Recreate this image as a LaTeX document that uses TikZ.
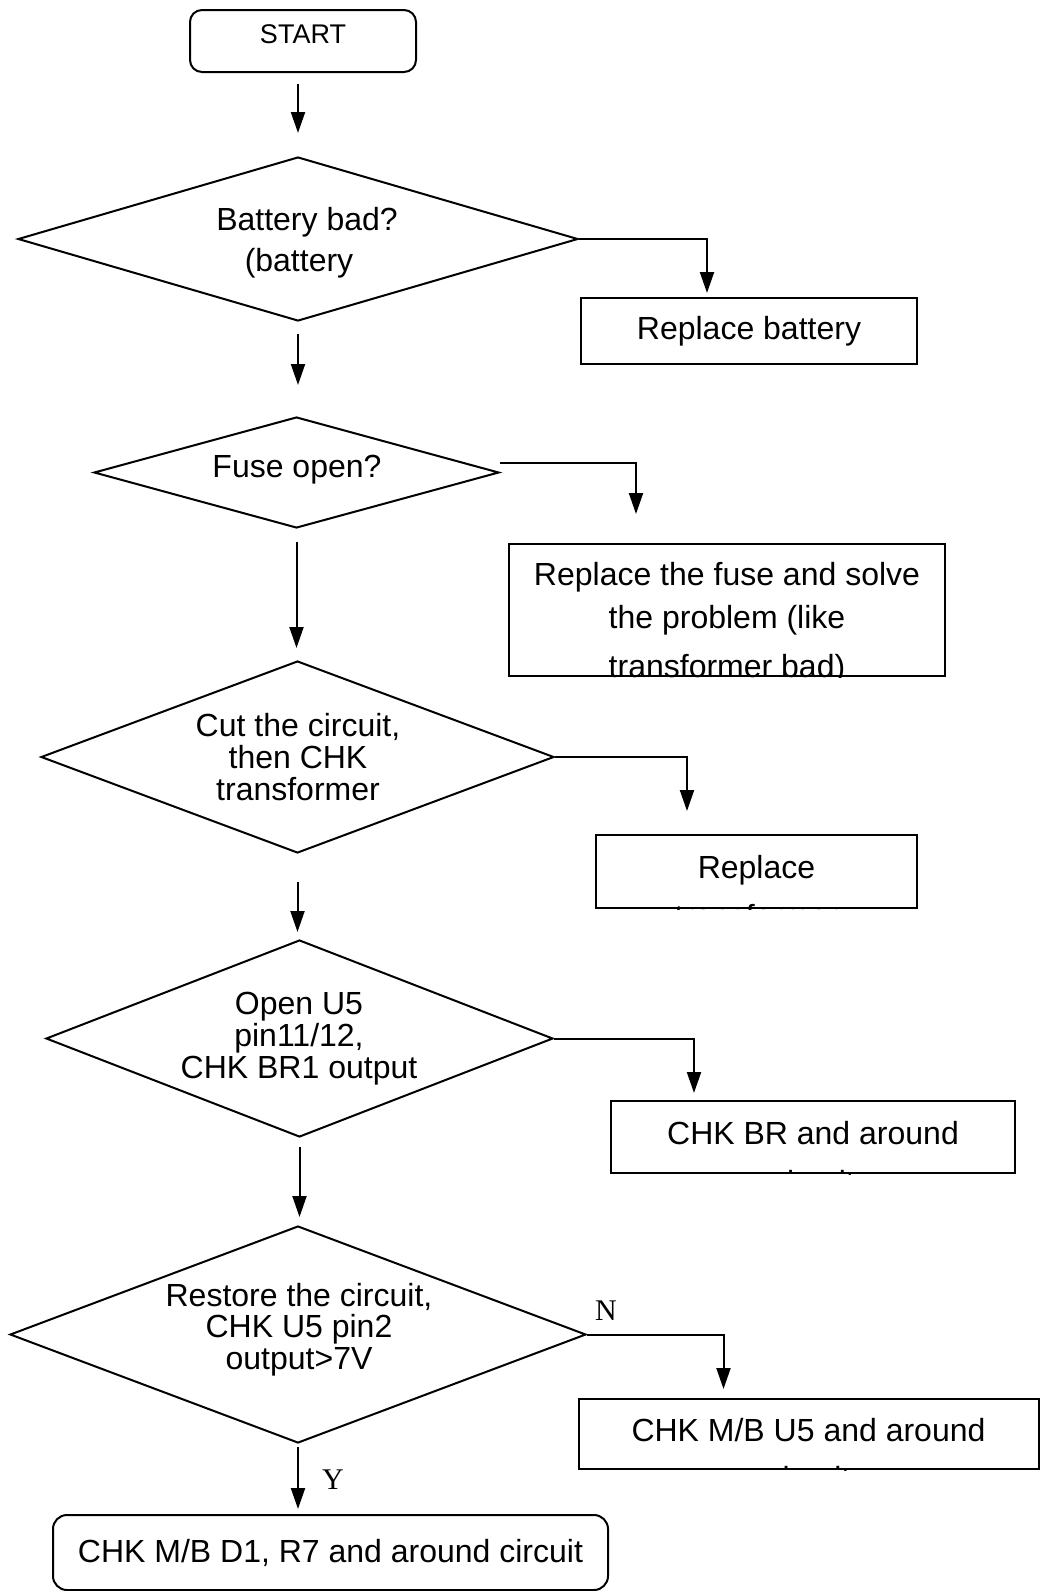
\documentclass[tikz,border=0pt]{standalone}
\usepackage{fontspec}
\setmainfont{Liberation Sans}
\newfontfamily\lblfont{Liberation Serif}
\usetikzlibrary{shapes.geometric,arrows.meta,calc}
\begin{document}
\begin{tikzpicture}[x=1pt,y=-1pt,
  every node/.style={font=\fontsize{32}{38}\selectfont},
  box/.style={draw, line width=2pt, inner sep=0pt},
  dia/.style={draw, diamond, line width=2pt, inner sep=0pt},
  txt/.style={align=center, inner sep=0pt},
  arr/.style={line width=2pt, -{Triangle[length=21pt,width=14pt]}},
  lbl/.style={font=\lblfont\fontsize{30}{30}\selectfont, inner sep=0pt}]
\useasboundingbox (0,0) rectangle (1040,1591);

% start
\node[box, rounded corners=12pt, minimum width=226pt, minimum height=62pt,
      font=\fontsize{27}{30}\selectfont, text depth=14pt] (start) at (303,41) {START};

% decisions
\node[dia, minimum width=560pt, minimum height=164pt] (d1) at (298,239) {};
\node[txt, font=\fontsize{32}{41}\selectfont] (t1) at (307,243) {Battery bad?\\(battery\kern16pt};

\node[dia, minimum width=405pt, minimum height=111pt] (d2) at (296.5,472.5) {};
\node[txt] (t2) at (297,470) {Fuse open?};

\node[dia, minimum width=513pt, minimum height=192pt] (d3) at (297.5,757) {};
\node[txt, font=\fontsize{32}{32}\selectfont] (t3) at (298,757) {Cut the circuit,\\then CHK\\transformer};

\node[dia, minimum width=507pt, minimum height=197pt] (d4) at (299.5,1038.5) {};
\node[txt, font=\fontsize{32}{32}\selectfont] (t4) at (299,1039) {Open U5\\pin11/12,\\CHK BR1 output};

\node[dia, minimum width=576pt, minimum height=217pt] (d5) at (298,1334.5) {};
\node[txt, font=\fontsize{32}{31.5}\selectfont] (t5) at (299,1329.5) {Restore the circuit,\\CHK U5 pin2\\output>7V};

% action boxes
\node[box, minimum width=336pt, minimum height=66pt] (r1) at (749,331) {Replace battery};

\node[box, minimum width=436pt, minimum height=132pt] (r2) at (727,610) {};
\begin{scope}
  \clip (r2.south west) rectangle (r2.north east);
  \node[anchor=base, inner sep=0pt] (r2a) at ($(r2.north)+(0,42)$) {Replace the fuse and solve};
  \node[anchor=base, inner sep=0pt] (r2b) at ($(r2.north)+(0,85)$) {the problem (like};
  \node[anchor=base, inner sep=0pt] (r2c) at ($(r2.north)+(0,134)$) {transformer bad)};
\end{scope}

\node[box, minimum width=321pt, minimum height=73pt] (r3) at (756.5,871.5) {};
\begin{scope}
  \clip (r3.south west) rectangle (r3.north east);
  \node[anchor=base, inner sep=0pt] (r3a) at ($(r3.north)+(0,44)$) {Replace};
  \node[anchor=base, inner sep=0pt] (r3b) at ($(r3.north)+(0,93)$) {transformer};
\end{scope}

\node[box, minimum width=404pt, minimum height=72pt] (r4) at (813,1137) {};
\begin{scope}
  \clip (r4.south west) rectangle (r4.north east);
  \node[anchor=base, inner sep=0pt] (r4a) at ($(r4.north)+(0,44)$) {CHK BR and around};
  \node[anchor=base, inner sep=0pt] (r4b) at ($(r4.north)+(0,93)$) {circuit};
\end{scope}

\node[box, minimum width=460pt, minimum height=70pt] (r5) at (808.5,1434) {};
\begin{scope}
  \clip (r5.south west) rectangle (r5.north east);
  \node[anchor=base, inner sep=0pt] (r5a) at ($(r5.north)+(0,43)$) {CHK M/B U5 and around};
  \node[anchor=base, inner sep=0pt] (r5b) at ($(r5.north)+(0,91)$) {circuit};
\end{scope}

\node[box, rounded corners=14pt, minimum width=555pt, minimum height=75pt] (end) at (330.5,1552.5) {CHK M/B D1, R7 and around circuit};

% vertical flow
\draw[arr, shorten <=11pt, shorten >=23pt] (start.south -| d1.north) -- (d1.north);
\draw[arr, shorten <=12pt, shorten >=31pt] (d1.south) -- (d1.south |- d2.north);
\draw[arr, shorten <=13pt, shorten >=12pt] (d2.south) -- (d2.south |- d3.north);
\draw[arr, shorten <=28pt, shorten >=7pt] (d3.south) -- (d3.south |- d4.north);
\draw[arr, shorten <=9pt, shorten >=8pt] (d4.south) -- (d4.south |- d5.north);
\draw[arr, shorten <=3pt, shorten >=5pt] (d5.south) -- (d5.south |- end.north);

% side branches
\draw[arr, shorten >=4pt] (d1.east) -| ($(r1.north west)+(127,0)$);
\draw[arr, shorten >=29pt] ($(d2.east)+(0,-10)$) -| ($(r2.north west)+(128,0)$);
\draw[arr, shorten >=23pt] (d3.east) -| ($(r3.north west)+(92,0)$);
\draw[arr, shorten >=7pt] (d4.east) -| ($(r4.north west)+(84,0)$);
\draw[arr, shorten >=9pt] (d5.east) -| ($(r5.north west)+(146,0)$);

% labels
\node[lbl] (lN) at (606,1311) {N};
\node[lbl] (lY) at (333,1480) {Y};
\end{tikzpicture}
\end{document}
